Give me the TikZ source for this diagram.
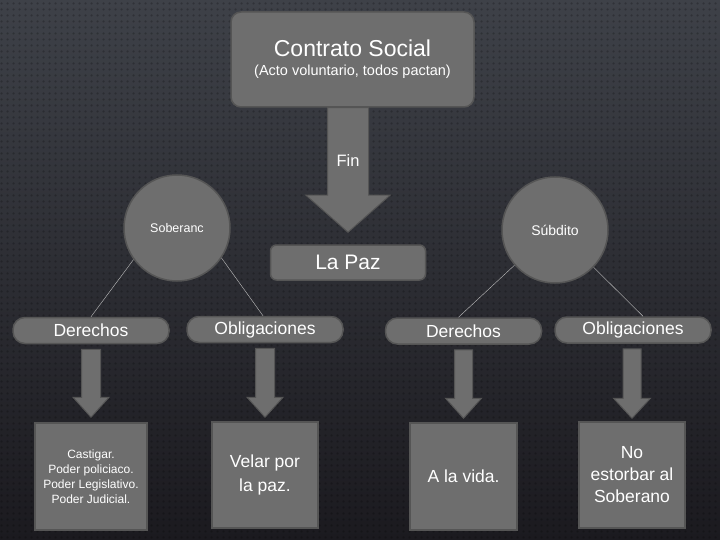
\documentclass[tikz,border=0pt]{standalone}
\usepackage{fontspec}
\setmainfont{Liberation Sans}
\usetikzlibrary{calc,patterns}

\definecolor{boxgray}{HTML}{6E6E6E}
\definecolor{rimgray}{HTML}{555555}
\definecolor{bgtop}{HTML}{3E4148}
\definecolor{bgbottom}{HTML}{1B1A1F}

% dotted texture of the backdrop
\pgfdeclarepatternformonly{bgdots}{\pgfpointorigin}{\pgfpoint{6pt}{6pt}}{\pgfpoint{6pt}{6pt}}{%
	\pgfpathcircle{\pgfpoint{3pt}{3pt}}{1.4pt}\pgfusepath{fill}}

% block arrow: from, to, top gap, bottom gap, half shaft, half head, head length
\newcommand\blockarrow[7]{%
	\path[arrowbody] let \p1=(#1.south), \p2=(#2.north) in
		(\x2-#5pt,\y1-#3pt) -- (\x2+#5pt,\y1-#3pt) -- (\x2+#5pt,\y2+#4pt+#7pt)
		-- (\x2+#6pt,\y2+#4pt+#7pt) -- (\x2,\y2+#4pt) -- (\x2-#6pt,\y2+#4pt+#7pt)
		-- (\x2-#5pt,\y2+#4pt+#7pt) -- cycle;}

\tikzset{
	base/.style={fill=boxgray, draw=rimgray, line width=1.5pt, text=white, inner sep=2pt},
	titlebox/.style={base, rounded corners=10pt, minimum width=243pt, minimum height=95pt, align=center},
	pazbox/.style={base, rounded corners=6pt, minimum width=155pt, minimum height=35pt, font=\fontsize{21}{24}\selectfont},
	person/.style={base, circle, minimum size=106pt, font=\fontsize{12.5}{15}\selectfont},
	pill/.style={base, rounded corners=12pt, minimum width=156pt, minimum height=26pt, font=\fontsize{17.5}{20}\selectfont},
	leaf/.style={base, minimum width=107pt, minimum height=107pt, align=center, font=\fontsize{17.5}{22}\selectfont},
	arrowbody/.style={fill=boxgray, draw=rimgray, line width=1pt},
	link/.style={draw=white!75!black, line width=0.4pt}
}

\begin{document}
\begin{tikzpicture}[x=1pt, y=-1pt]
	\useasboundingbox (0,0) rectangle (720,540);
	\shade[top color=bgtop, bottom color=bgbottom] (0,0) rectangle (720,540);
	\fill[pattern=bgdots, pattern color=black, opacity=0.22] (0,0) rectangle (720,540);

	% top of the chart
	\node[titlebox] (contrato) at (352.5,59.5)
		{\fontsize{23}{27}\selectfont Contrato Social\\[7pt]\fontsize{14.5}{17}\selectfont (Acto voluntario, todos pactan)};
	\node[pazbox] (paz) at (348,262.5) {La Paz};
	\blockarrow{contrato}{paz}{0}{12}{20.5}{42}{37}
	\node[text=white, font=\fontsize{16.5}{19}\selectfont] (fin) at (348,161) {Fin};

	% the two parties
	\node[person] (soberano) at (177,228) {Soberanc};
	\node[person, font=\fontsize{14}{17}\selectfont] (subdito) at (555,230) {Súbdito};

	\node[pill] (der1) at (91,330.5) {Derechos};
	\node[pill] (obl1) at (265,329.5) {Obligaciones};
	\node[pill] (der2) at (463.5,331) {Derechos};
	\node[pill] (obl2) at (633,330) {Obligaciones};

	\path[link] (soberano.216) -- (der1.north);
	\path[link] (soberano.326) -- ([xshift=-2pt]obl1.north);
	\path[link] (subdito.221) -- ([xshift=-5pt]der2.north);
	\path[link] (subdito.316) -- ([xshift=10pt]obl2.north);

	% what each side gets
	\node[leaf, minimum width=112pt, font=\fontsize{12}{15}\selectfont] (box1) at (91,476.5)
		{Castigar.\\Poder policiaco.\\Poder Legislativo.\\Poder Judicial.};
	\node[leaf, minimum width=106pt, minimum height=106pt, font=\fontsize{17.5}{24}\selectfont] (box2) at (265,475) {Velar por\\la paz.};
	\node[leaf] (box3) at (463.5,476.5) {A la vida.};
	\node[leaf, minimum width=106pt, minimum height=106pt] (box4) at (632,475) {No\\estorbar al\\Soberano};

	\blockarrow{der1}{box1}{5}{5}{9.5}{18}{20}
	\blockarrow{obl1}{box2}{5}{4}{9.5}{18}{20}
	\blockarrow{der2}{box3}{5}{4}{9}{18}{20}
	\blockarrow{obl2}{box4}{5}{3}{9}{18.5}{20}
\end{tikzpicture}
\end{document}
